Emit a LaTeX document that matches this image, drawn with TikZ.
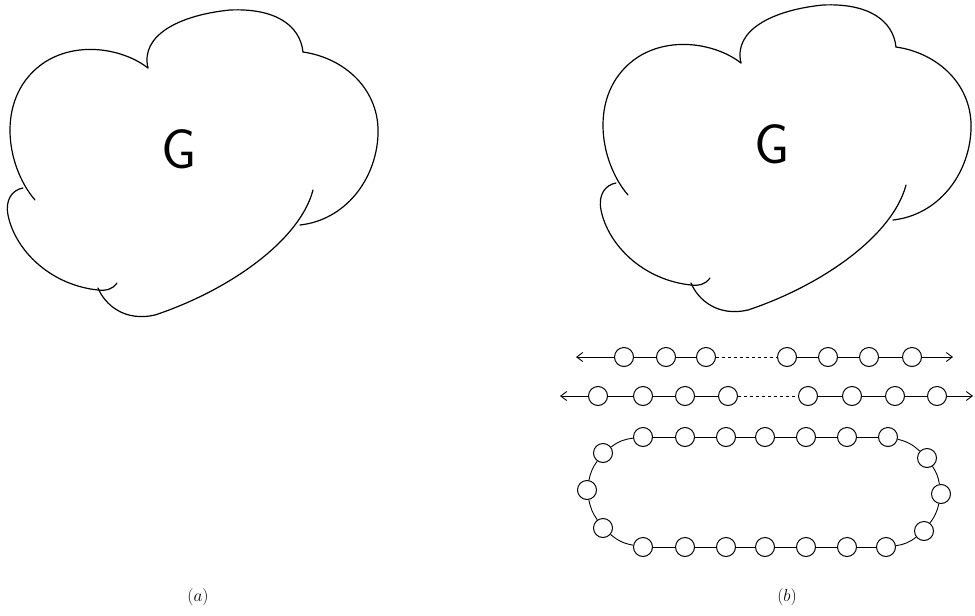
\documentclass[tikz,border=0pt]{standalone}
\usetikzlibrary{arrows.meta}
\begin{document}
\begin{tikzpicture}[x=1pt,y=-1pt,
  outline/.style={line width=1.2pt,line cap=round,line join=round},
  bead/.style={circle,draw,line width=1pt,minimum size=19pt,inner sep=0pt},
  link/.style={line width=0.9pt},
  dots/.style={line width=0.9pt,dash pattern=on 3pt off 3pt},
  tip/.style={line width=0.9pt,-{Straight Barb[length=6pt,width=9pt]}},
  lab/.style={font=\fontsize{18}{20}\selectfont},
  glabel/.style={font=\fontsize{56}{56}\selectfont\sffamily},
  gcloud/.pic={
    \draw[outline] (35,200) .. controls (5,165) and (-5,95) .. (45,62)
                   .. controls (80,40) and (125,50) .. (148,68);
    \draw[outline] (148,68) .. controls (140,35) and (180,15) .. (230,10)
                   .. controls (275,8) and (300,25) .. (303,52);
    \draw[outline] (303,52) .. controls (345,58) and (380,90) .. (378,135)
                   .. controls (376,180) and (345,220) .. (300,225);
    \draw[outline] (313,190) .. controls (300,240) and (230,290) .. (155,315)
                   .. controls (125,322) and (105,305) .. (98,288);
    \draw[outline] (117,283) .. controls (112,290) and (105,291) .. (98,290)
                   .. controls (50,285) and (15,250) .. (8,215)
                   .. controls (5,200) and (12,190) .. (23,188);
    \node[glabel] (G) at (179,149) {G};
  }]
\useasboundingbox (0,0) rectangle (975,616);

\pic (L) at (0,0) {gcloud};
\pic (R) at (593,-5) {gcloud};

% row 1
\coordinate (a0) at (576,357);
\coordinate (a9) at (953,357);
\foreach \i/\x in {1/624,2/666,3/706,4/787,5/828,6/869,7/912}
  \node[bead] (a\i) at (\x,357) {};
\draw[tip] (a1) -- (a0);
\draw[tip] (a7) -- (a9);
\draw[link] (a1) -- (a2) (a2) -- (a3) (a4) -- (a5) (a5) -- (a6) (a6) -- (a7);
\draw[dots] (a3) -- (a4);

% row 2
\coordinate (b0) at (560,396);
\coordinate (b9) at (973,396);
\foreach \i/\x in {1/598,2/643,3/685,4/728,5/808,6/852,7/895,8/937}
  \node[bead] (b\i) at (\x,396) {};
\draw[tip] (b1) -- (b0);
\draw[tip] (b8) -- (b9);
\draw[link] (b1) -- (b2) (b2) -- (b3) (b3) -- (b4) (b5) -- (b6) (b6) -- (b7) (b7) -- (b8);
\draw[dots] (b4) -- (b5);

% loop
\foreach \i/\x in {1/643,2/685,3/726,4/765,5/806,6/847,7/888}
  \node[bead] (t\i) at (\x,437) {};
\foreach \i/\x in {1/643,2/685,3/726,4/765,5/806,6/847,7/886}
  \node[bead] (u\i) at (\x,547) {};
\node[bead] (r1) at (927,458) {};
\node[bead] (r2) at (941,494) {};
\node[bead] (r3) at (924,531) {};
\node[bead] (l1) at (603,453) {};
\node[bead] (l2) at (587,490) {};
\node[bead] (l3) at (603,528) {};
\draw[link] (t1) -- (t2) (t2) -- (t3) (t3) -- (t4) (t4) -- (t5) (t5) -- (t6) (t6) -- (t7);
\draw[link] (u1) -- (u2) (u2) -- (u3) (u3) -- (u4) (u4) -- (u5) (u5) -- (u6) (u6) -- (u7);
\draw[link] (t7) to[bend left=15] (r1);
\draw[link] (r1) to[bend left=12] (r2);
\draw[link] (r2) to[bend left=12] (r3);
\draw[link] (r3) to[bend left=15] (u7);
\draw[link] (u1) to[bend left=15] (l3);
\draw[link] (l3) to[bend left=12] (l2);
\draw[link] (l2) to[bend left=12] (l1);
\draw[link] (l1) to[bend left=15] (t1);

\node[lab] (capa) at (198,597) {$(a)$};
\node[lab] (capb) at (787,597) {$(b)$};
\end{tikzpicture}
\end{document}
